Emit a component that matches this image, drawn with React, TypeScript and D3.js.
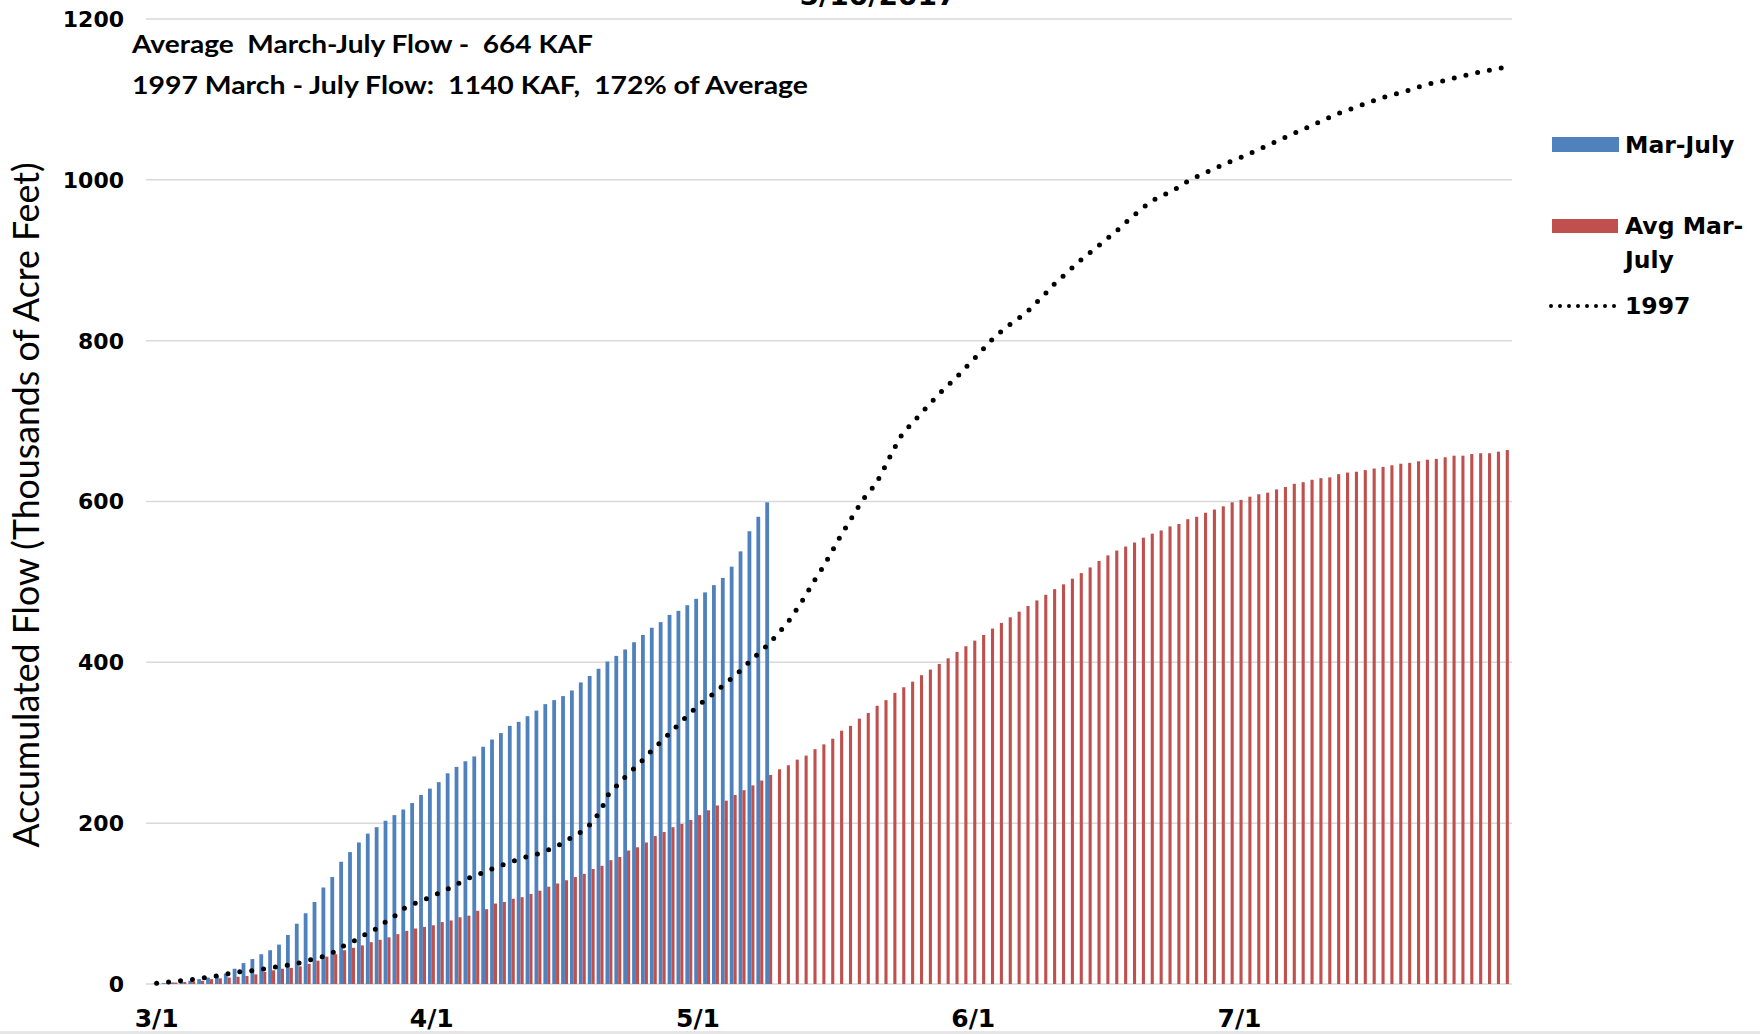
import React from 'react';
import * as d3 from 'd3';

// x axis: one category per day, 3/1 .. 7/31
const tickLabels = ['3/1', '4/1', '5/1', '6/1', '7/1'];
const tickDays = [0, 31, 61, 92, 122];
const yTicks = [0, 200, 400, 600, 800, 1000, 1200];

// accumulated flow (KAF), current year, 3/1 .. 5/9
const marJuly = [
  0.5, 1, 2, 3, 4, 6, 8, 10, 13, 19,
  26, 31, 37, 42, 49, 61, 75, 88, 102, 120,
  133, 152, 164, 176, 187, 195, 203, 210, 217, 225,
  235, 243, 251, 262, 270, 277, 283, 295, 304, 312,
  321, 326, 333, 340, 348, 353, 358, 365, 375, 383,
  392, 401, 408, 416, 425, 434, 443, 450, 459, 464,
  471, 479, 487, 496, 505, 519, 538, 563, 581, 599,
];

// average accumulated flow (KAF), 3/1 .. 7/31
const avgMarJuly = [
  0.5, 1, 1.7, 2.5, 3, 4, 6, 7, 8, 9,
  10, 12, 15, 17, 19, 20, 22, 25, 29, 34,
  37, 42, 45, 48, 52, 55, 58, 62, 66, 69,
  71, 73, 77, 79, 83, 85, 91, 93, 100, 102,
  106, 108, 112, 116, 121, 125, 129, 133, 137, 143,
  147, 154, 158, 166, 170, 176, 184, 189, 195, 199,
  204, 210, 216, 222, 228, 235, 241, 247, 253, 260,
  267, 272, 279, 284, 292, 298, 305, 315, 321, 330,
  337, 346, 353, 362, 369, 376, 384, 391, 398, 405,
  413, 420, 427, 434, 442, 449, 456, 463, 470, 477,
  484, 491, 497, 504, 511, 518, 526, 533, 539, 544,
  549, 555, 560, 564, 569, 572, 578, 581, 586, 590,
  594, 599, 602, 606, 609, 611, 615, 618, 622, 624,
  627, 629, 630, 634, 636, 637, 639, 641, 643, 645,
  647, 648, 650, 652, 653, 655, 657, 657, 659, 660,
  660, 662, 664,
];

// 1997 accumulated flow (KAF), 3/1 .. 7/31
const flow1997 = [
  1, 2, 3, 4.5, 5.5, 7, 9, 10.5, 12.5, 15,
  16, 16.5, 18.5, 20.5, 22, 24, 26, 29, 32, 35,
  40, 47, 52, 58, 65, 70, 79, 86, 95, 100,
  104, 109, 114, 119, 125, 131, 135, 140, 144, 148,
  152, 156, 159, 162, 166, 171, 177, 184, 190, 200,
  215, 238, 248, 260, 270, 281, 293, 303, 314, 325,
  336, 346, 355, 363, 373, 382, 392, 403, 413, 423,
  436, 448, 464, 481, 500, 517, 536, 556, 574, 592,
  609, 621, 642, 664, 684, 696, 708, 720, 732, 743,
  753, 765, 776, 788, 800, 810, 819, 827, 835, 846,
  857, 869, 879, 889, 899, 908, 917, 926, 935, 945,
  955, 964, 973, 979, 984, 990, 997, 1003, 1008, 1013,
  1018, 1023, 1027, 1032, 1037, 1042, 1047, 1052, 1057, 1062,
  1067, 1072, 1077, 1082, 1086, 1090, 1094, 1098, 1102, 1105,
  1108, 1111, 1115, 1118, 1121, 1123, 1126, 1129, 1131, 1134,
  1136, 1138, 1140,
];

const BLUE = '#4f81bd';
const RED = '#c0504d';
const tickFont = '"DejaVu Sans", Verdana, sans-serif';
const noteFont = 'Lato, "Open Sans", sans-serif';

export default function App() {
  const width = 1760;
  const height = 1034;

  const days = avgMarJuly.map((_, i) => i);
  const x = d3.scaleBand<number>().domain(days).range([152.2, 1510.2]).padding(0);
  const y = d3.scaleLinear().domain([0, 1200]).range([984, 19]);
  const bw = x.bandwidth();
  const blueW = 3.8;
  const redW = 3.1;
  const cx = (i: number) => (x(i) as number) + bw / 2;

  const line = d3
    .line<number>()
    .x((_, i) => cx(i))
    .y((d) => y(d));

  return (
    <svg
      width={width}
      height={height}
      style={{ position: 'absolute', left: 0, top: 0, background: '#fff' }}
    >
      {/* title, mostly cropped at the top */}
      <text
        x={878}
        y={5}
        textAnchor="middle"
        fontFamily={tickFont}
        fontWeight="bold"
        fontSize={26}
        textLength={157}
        lengthAdjust="spacingAndGlyphs"
      >
        5/10/2017
      </text>

      {/* gridlines */}
      {yTicks.map((t) => (
        <line key={t} x1={146} x2={1512} y1={y(t)} y2={y(t)} stroke="#d9d9d9" strokeWidth={1.5} />
      ))}

      {/* y tick labels */}
      {yTicks.map((t) => (
        <text
          key={'yl' + t}
          x={124}
          y={y(t)}
          dy="0.36em"
          textAnchor="end"
          fontFamily={tickFont}
          fontWeight="bold"
          fontSize={22}
          fill="#000"
        >
          {t}
        </text>
      ))}

      {/* x tick labels */}
      {tickDays.map((d, i) => (
        <text
          key={'xl' + d}
          x={cx(d)}
          y={1027}
          textAnchor="middle"
          fontFamily={tickFont}
          fontWeight="bold"
          fontSize={25}
          fill="#000"
        >
          {tickLabels[i]}
        </text>
      ))}

      {/* y axis title */}
      <text
        transform="translate(39,505) rotate(-90)"
        textAnchor="middle"
        fontFamily={noteFont}
        fontSize={36}
        textLength={685}
        lengthAdjust="spacingAndGlyphs"
        fill="#000"
      >
        Accumulated Flow (Thousands of Acre Feet)
      </text>

      {/* bars */}
      <g>
        {marJuly.map((v, i) => (
          <rect
            key={'b' + i}
            x={cx(i) - blueW}
            y={y(v)}
            width={blueW}
            height={y(0) - y(v)}
            fill={BLUE}
          />
        ))}
        {avgMarJuly.map((v, i) => (
          <rect
            key={'r' + i}
            x={cx(i)}
            y={y(v)}
            width={redW}
            height={y(0) - y(v)}
            fill={RED}
          />
        ))}
      </g>

      {/* 1997 dotted line */}
      <path
        d={line(flow1997) || ''}
        fill="none"
        stroke="#000"
        strokeWidth={5}
        strokeLinecap="round"
        strokeDasharray="0 12"
      />

      {/* notes */}
      <text
        x={132}
        y={53}
        fontFamily={noteFont}
        fontWeight="bold"
        fontSize={24}
        textLength={461}
        lengthAdjust="spacingAndGlyphs"
        style={{ whiteSpace: 'pre' }}
      >
        {'Average  March-July Flow -  664 KAF'}
      </text>
      <text
        x={132}
        y={94}
        fontFamily={noteFont}
        fontWeight="bold"
        fontSize={24}
        textLength={676}
        lengthAdjust="spacingAndGlyphs"
        style={{ whiteSpace: 'pre' }}
      >
        {'1997 March - July Flow:  1140 KAF,  172% of Average'}
      </text>

      {/* legend */}
      <g fontFamily={tickFont} fontWeight="bold" fontSize={23.5} fill="#000">
        <rect x={1552} y={137} width={67} height={15} fill={BLUE} />
        <text x={1625} y={145} dy="0.36em">Mar-July</text>
        <rect x={1552} y={219} width={66} height={14} fill={RED} />
        <text x={1625} y={226} dy="0.36em">Avg Mar-</text>
        <text x={1625} y={260} dy="0.36em">July</text>
        <line
          x1={1551}
          x2={1616}
          y1={306}
          y2={306}
          stroke="#000"
          strokeWidth={4}
          strokeLinecap="round"
          strokeDasharray="0 9"
        />
        <text x={1625} y={306} dy="0.36em">1997</text>
      </g>

      {/* bottom frame edge */}
      <rect x={0} y={1031} width={width} height={3} fill="#e6e6e6" />
    </svg>
  );
}
